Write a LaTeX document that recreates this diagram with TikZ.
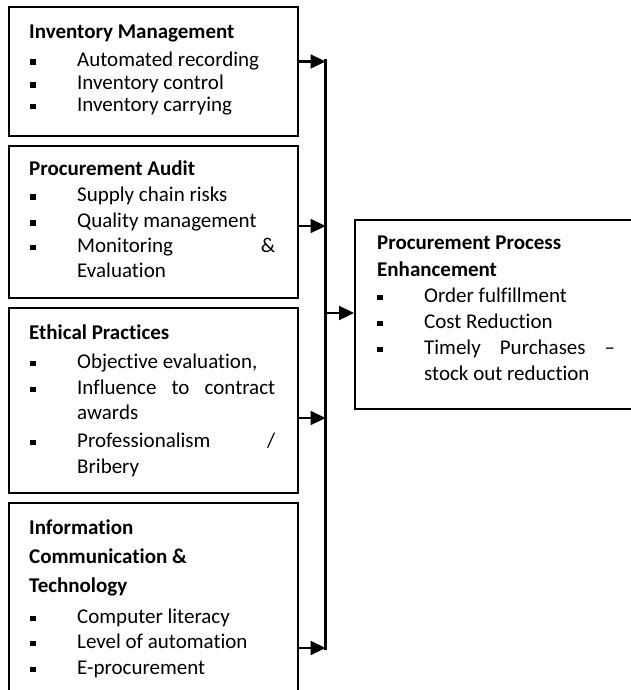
\documentclass[tikz,border=0pt]{standalone}
\usepackage{fontspec}
\setmainfont{Carlito}[Ligatures=NoCommon]
\usetikzlibrary{arrows.meta}

% bullet square plus its item text, placed on a given baseline
\newcommand\bulitem[5]{%
  \node[bul] (#1b) at (#2,#4-4.5) {};
  \node[txt] (#1) at (#3,#4) {#5};}

\begin{document}
\begin{tikzpicture}[x=1pt,y=-1pt,
  box/.style={draw, line width=2pt, inner sep=0pt, anchor=north west},
  hd/.style={anchor=base west, inner sep=0pt, font=\fontsize{21}{25}\selectfont\bfseries},
  txt/.style={anchor=base west, inner sep=0pt, font=\fontsize{21}{25}\selectfont},
  bul/.style={fill, minimum size=5.5pt, inner sep=0pt},
  arr/.style={line width=2.2pt, -{Triangle[length=15pt,width=14pt]}},
  bus/.style={line width=2.2pt}]
\useasboundingbox (0,0) rectangle (631,690);
\clip (0,0) rectangle (631,690);

% input boxes
\node[box, minimum width=289pt, minimum height=129pt] (b1) at (8,6) {};
\node[box, minimum width=289pt, minimum height=152pt] (b2) at (8,145) {};
\node[box, minimum width=289pt, minimum height=185pt] (b3) at (8,307) {};
\node[box, minimum width=289pt, minimum height=200pt] (b4) at (8,502) {};
% outcome box
\node[box, minimum width=290pt, minimum height=189pt] (out) at (354,219) {};

% Inventory Management
\node[hd] (h1) at (29,38.3) {Inventory Management};
\bulitem{i11}{33}{77}{66.7}{Automated recording}
\bulitem{i12}{33}{77}{89.3}{Inventory control}
\bulitem{i13}{33}{77}{111}{Inventory carrying}

% Procurement Audit
\node[hd] (h2) at (29,175.7) {Procurement Audit};
\bulitem{i21}{33}{77}{201.7}{Supply chain risks}
\bulitem{i22}{33}{77}{227.7}{Quality management}
\bulitem{i23}{33}{77}{252}{\makebox[198pt][s]{Monitoring \hfill \&}}
\node[txt] (i24) at (77,277.7) {Evaluation};

% Ethical Practices
\node[hd] (h3) at (29,339) {Ethical Practices};
\bulitem{i31}{33}{77}{368}{Objective evaluation,}
\bulitem{i32}{33}{77}{394}{\makebox[198pt][s]{Influence to contract}}
\node[txt] (i33) at (77,419) {awards};
\bulitem{i34}{33}{77}{447}{\makebox[198pt][s]{Professionalism \hfill /}}
\node[txt] (i35) at (77,473) {Bribery};

% Information Communication & Technology
\node[hd] (h4a) at (29,534) {Information};
\node[hd] (h4b) at (29,563) {Communication \&};
\node[hd] (h4c) at (29,592) {Technology};
\bulitem{i41}{33}{77}{623}{Computer literacy}
\bulitem{i42}{33}{77}{648}{Level of automation}
\bulitem{i43}{33}{77}{674}{E-procurement}

% Procurement Process Enhancement
\node[hd] (h5a) at (377,249) {Procurement Process};
\node[hd] (h5b) at (377,276) {Enhancement};
\bulitem{i51}{380}{424}{302}{Order fulfillment}
\bulitem{i52}{380}{424}{328}{Cost Reduction}
\bulitem{i53}{380}{424}{354}{\makebox[191pt][s]{Timely Purchases --}}
\node[txt] (i54) at (424,380) {stock out reduction};

% collecting bus and arrows
\coordinate (bt) at (325.5,59.5);
\coordinate (bb) at (325.5,649.5);
\coordinate (j1) at (325.5,61.5);
\coordinate (j2) at (325.5,226);
\coordinate (j3) at (325.5,418);
\coordinate (j4) at (325.5,648);
\coordinate (jo) at (325.5,313);
\draw[bus] (bt) -- (bb);
\draw[arr] (b1.east |- j1) -- (j1);
\draw[arr] (b2.east |- j2) -- (j2);
\draw[arr] (b3.east |- j3) -- (j3);
\draw[arr] (b4.east |- j4) -- (j4);
\draw[arr] (jo) -- (out.west |- jo);
\end{tikzpicture}
\end{document}
